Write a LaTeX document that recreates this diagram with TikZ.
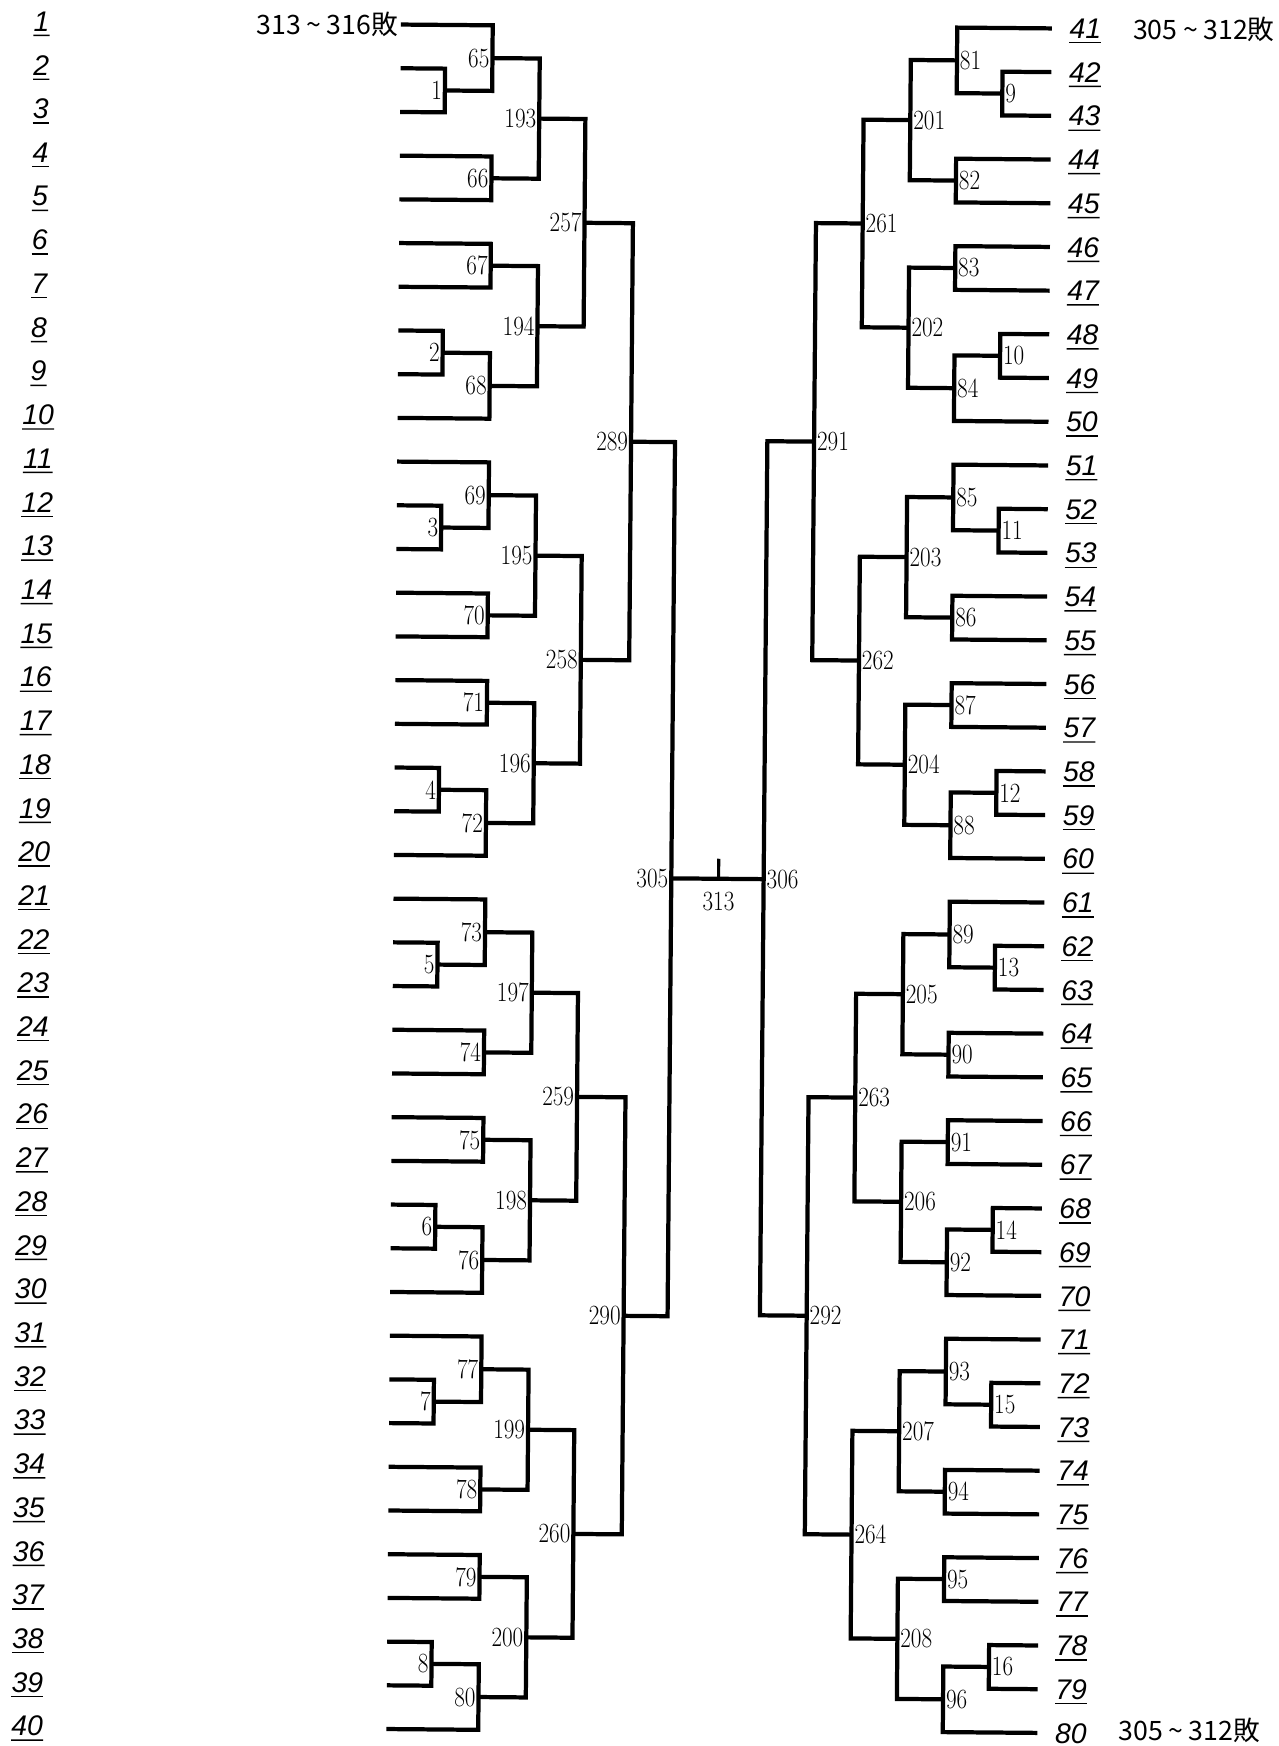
\documentclass[tikz,border=0pt]{standalone}
\usepackage{fontspec}
\usepackage{graphicx}
\newfontfamily\rowfont{Liberation Sans}
\newfontfamily\cjkfont{Noto Sans CJK JP}
\newcommand\mfont{\fontsize{25}{25}\selectfont}
\newcommand\mnum[1]{\scalebox{0.83}[1]{#1}}
\newcommand\tld{\hspace{5pt}\textasciitilde\hspace{5pt}}
\newcommand\conn[3]{\draw[br] (#2) -- (#2 -| #1) -- (#3 -| #1) -- (#3);}
\tikzset{
  br/.style={line width=3.8pt, line join=miter, line cap=butt},
  ticks/.style={line width=2.8pt},
  ul/.style={line width=1.3pt},
  mlabL/.style={anchor=east, inner sep=0pt, xshift=-2.5pt, font=\mfont},
  mlabR/.style={anchor=west, inner sep=0pt, xshift=2.5pt, font=\mfont},
  rowlab/.style={inner sep=0pt, font=\rowfont\itshape\fontsize{25.5}{25.5}\selectfont},
  cjk/.style={inner sep=0pt, font=\cjkfont\fontsize{24}{24}\selectfont},
}
\begin{document}
\begin{tikzpicture}[x=1pt,y=-1pt]
\useasboundingbox (0,0) rectangle (1149.2,1569);
\begin{scope}[rotate=-0.487]
% left entries
\foreach \i in {1,...,40}{
  \pgfmathsetmacro\yy{19+39.28*(\i-1)}
  \coordinate (L\i) at (360.5,\yy);
  \node[rowlab] (t\i) at (37.5,\yy) {\i};
  \draw[ul] ([yshift=-3.5pt]t\i.south west) -- ([yshift=-3.5pt]t\i.south east);
}
% right entries
\foreach \j in {41,...,80}{
  \pgfmathsetmacro\yy{17.5+39.28*(\j-41)}
  \coordinate (L\j) at (945.5,\yy);
  \node[rowlab] (t\j) at (975.5,\yy) {\j};
  \ifnum\j<80
    \draw[ul] ([yshift=-3.5pt]t\j.south west) -- ([yshift=-3.5pt]t\j.south east);
  \fi
}
% blocks of ten entries
\foreach \k in {0,...,7}{
  \pgfmathtruncatemacro\off{10*\k}
  \ifnum\k<4
    \pgfmathsetmacro\yb{19+39.28*(10*\k-1)}
    \def\xa{400.5}\def\xb{443}\def\xc{485.5}\def\xd{527}
    \tikzset{mlab/.style=mlabL}
  \else
    \pgfmathsetmacro\yb{17.5+39.28*(10*(\k-4)-1)}
    \def\xa{901.5}\def\xb{860.5}\def\xc{819}\def\xd{777}
    \tikzset{mlab/.style=mlabR}
  \fi
  \pgfmathtruncatemacro\mA{2*\k+1}
  \pgfmathtruncatemacro\mB{2*\k+2}
  \pgfmathtruncatemacro\mC{65+4*\k}
  \pgfmathtruncatemacro\mD{66+4*\k}
  \pgfmathtruncatemacro\mE{67+4*\k}
  \pgfmathtruncatemacro\mF{68+4*\k}
  \pgfmathtruncatemacro\mG{193+2*\k}
  \pgfmathtruncatemacro\mH{194+2*\k}
  \pgfmathtruncatemacro\mI{257+\k}
  \pgfmathtruncatemacro\lA{\off+1}
  \pgfmathtruncatemacro\lB{\off+2}
  \pgfmathtruncatemacro\lC{\off+3}
  \pgfmathtruncatemacro\lD{\off+4}
  \pgfmathtruncatemacro\lE{\off+5}
  \pgfmathtruncatemacro\lF{\off+6}
  \pgfmathtruncatemacro\lG{\off+7}
  \pgfmathtruncatemacro\lH{\off+8}
  \pgfmathtruncatemacro\lI{\off+9}
  \pgfmathtruncatemacro\lJ{\off+10}
  \coordinate (M\mA) at (\xa,{\yb+39.28*2.5});
  \coordinate (M\mB) at (\xa,{\yb+39.28*8.5});
  \coordinate (M\mC) at (\xb,{\yb+39.28*1.75});
  \coordinate (M\mD) at (\xb,{\yb+39.28*4.5});
  \coordinate (M\mE) at (\xb,{\yb+39.28*6.5});
  \coordinate (M\mF) at (\xb,{\yb+39.28*9.25});
  \coordinate (M\mG) at (\xc,{\yb+39.28*3.125});
  \coordinate (M\mH) at (\xc,{\yb+39.28*7.875});
  \coordinate (M\mI) at (\xd,{\yb+39.28*5.5});
  \conn{M\mA}{L\lB}{L\lC}
  \conn{M\mB}{L\lH}{L\lI}
  \conn{M\mC}{L\lA}{M\mA}
  \conn{M\mD}{L\lD}{L\lE}
  \conn{M\mE}{L\lF}{L\lG}
  \conn{M\mF}{M\mB}{L\lJ}
  \conn{M\mG}{M\mC}{M\mD}
  \conn{M\mH}{M\mE}{M\mF}
  \conn{M\mI}{M\mG}{M\mH}
  \node[mlab] (n\mA) at (M\mA) {\mnum{\mA}};
  \node[mlab] (n\mB) at (M\mB) {\mnum{\mB}};
  \node[mlab] (n\mC) at (M\mC) {\mnum{\mC}};
  \node[mlab] (n\mD) at (M\mD) {\mnum{\mD}};
  \node[mlab] (n\mE) at (M\mE) {\mnum{\mE}};
  \node[mlab] (n\mF) at (M\mF) {\mnum{\mF}};
  \node[mlab] (n\mG) at (M\mG) {\mnum{\mG}};
  \node[mlab] (n\mH) at (M\mH) {\mnum{\mH}};
  \node[mlab] (n\mI) at (M\mI) {\mnum{\mI}};
}
% later rounds
\coordinate (M289) at (570.5,{19+39.28*9.5});
\coordinate (M290) at (570.5,{19+39.28*29.5});
\coordinate (M291) at (735,{17.5+39.28*9.5});
\coordinate (M292) at (735,{17.5+39.28*29.5});
\coordinate (M305) at (610,{18.3+39.28*19.5});
\coordinate (M306) at (693,{18.3+39.28*19.5});
\coordinate (M313) at (652.5,{18.3+39.28*19.5});
\coordinate (T313) at (652.5,{18.3+39.28*19.5-18});
\conn{M289}{M257}{M258}
\conn{M290}{M259}{M260}
\conn{M291}{M261}{M262}
\conn{M292}{M263}{M264}
\conn{M305}{M289}{M290}
\conn{M306}{M291}{M292}
\draw[br] (M305) -- (M306);
\draw[ticks] (M313) -- (T313);
\node[mlabL] (n289) at (M289) {\mnum{289}};
\node[mlabL] (n290) at (M290) {\mnum{290}};
\node[mlabR] (n291) at (M291) {\mnum{291}};
\node[mlabR] (n292) at (M292) {\mnum{292}};
\node[mlabL] (n305) at (M305) {\mnum{305}};
\node[mlabR] (n306) at (M306) {\mnum{306}};
\node[anchor=north, inner sep=0pt, font=\mfont] (n313) at ([yshift=-12pt]M313) {\mnum{313}};
% losers' notes
\node[cjk, anchor=east] (lose1) at (358.2,19) {313\tld 316敗};
\node[cjk, anchor=west] (lose2) at (1018.2,18) {305\tld 312敗};
\node[cjk, anchor=west] (lose3) at (1018.2,{14.5+39.28*39}) {305\tld 312敗};
\end{scope}
\end{tikzpicture}
\end{document}
